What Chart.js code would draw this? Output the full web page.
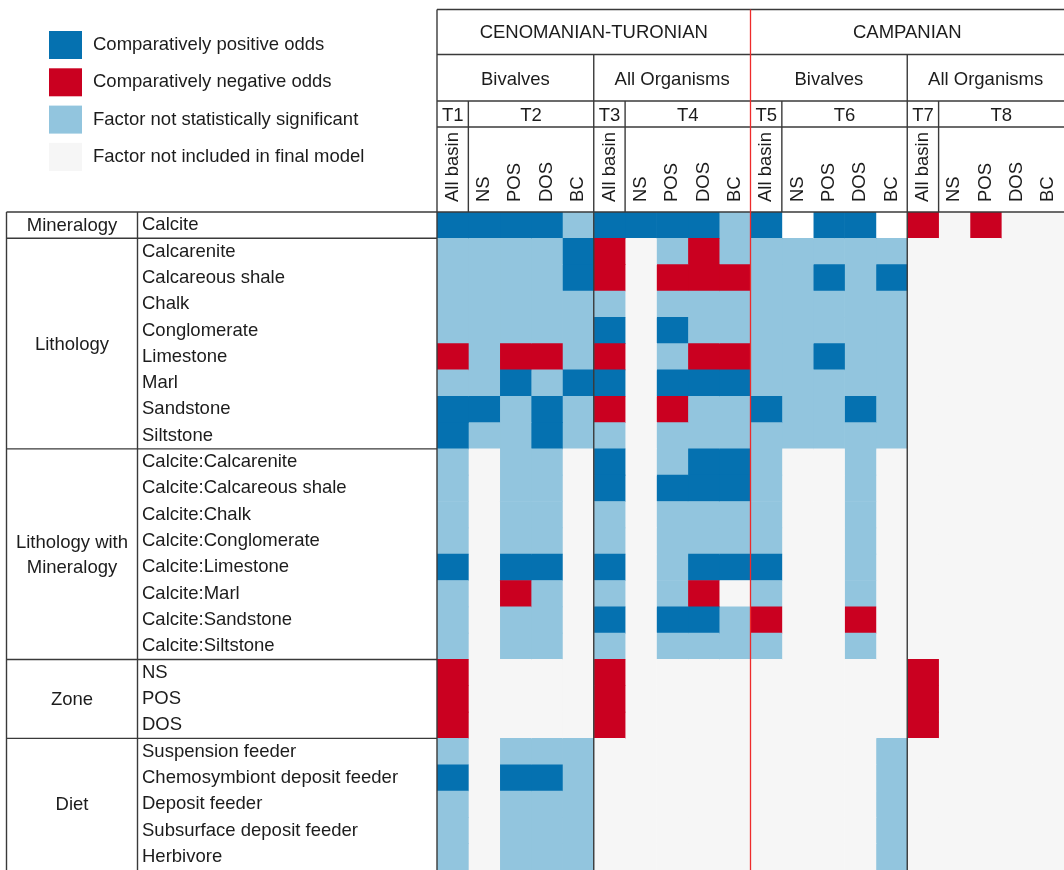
<!DOCTYPE html>
<html>
<head>
<meta charset="utf-8">
<script src="https://cdn.jsdelivr.net/npm/chart.js@4.4.1/dist/chart.umd.min.js"></script>
<style>
    body { margin: 0; background: #ffffff; }
    #wrap { width: 1064px; height: 870px; position: relative; }
</style>
</head>
<body>
<div id="wrap"><canvas id="odds-chart"></canvas></div>
<script>
// -- data --

const factors = [
    'Calcite',
    'Calcarenite', 'Calcareous shale', 'Chalk', 'Conglomerate', 'Limestone', 'Marl', 'Sandstone', 'Siltstone',
    'Calcite:Calcarenite', 'Calcite:Calcareous shale', 'Calcite:Chalk', 'Calcite:Conglomerate',
    'Calcite:Limestone', 'Calcite:Marl', 'Calcite:Sandstone', 'Calcite:Siltstone',
    'NS', 'POS', 'DOS',
    'Suspension feeder', 'Chemosymbiont deposit feeder', 'Deposit feeder', 'Subsurface deposit feeder', 'Herbivore'
];

const groupNames = [['Mineralogy'], ['Lithology'], ['Lithology with', 'Mineralogy'], ['Zone'], ['Diet']];
const groupSizes = [1, 8, 8, 3, 5];

const periods = ['CENOMANIAN-TURONIAN', 'CAMPANIAN'];
const organisms = ['Bivalves', 'All Organisms', 'Bivalves', 'All Organisms'];
const tests = ['T1', 'T2', 'T3', 'T4', 'T5', 'T6', 'T7', 'T8'];
const testSpans = [1, 4, 1, 4, 1, 4, 1, 4];
const subsets = ['All basin', 'NS', 'POS', 'DOS', 'BC', 'All basin', 'NS', 'POS', 'DOS', 'BC',
                 'All basin', 'NS', 'POS', 'DOS', 'BC', 'All basin', 'NS', 'POS', 'DOS', 'BC'];

const legendKeys = ['P', 'N', 'S', 'X'];
const legendLabels = ['Comparatively positive odds', 'Comparatively negative odds',
                      'Factor not statistically significant', 'Factor not included in final model'];

// P positive, N negative, S not significant, X not included, W empty
const mineralogyCells = [
    'PPPPS' + 'PPPPS' + 'PWPPW' + 'NXNXX'
];
const lithologyCells = [
    'SSSSP' + 'NXSNS' + 'SSSSS' + 'XXXXX',
    'SSSSP' + 'NXNNN' + 'SSPSP' + 'XXXXX',
    'SSSSS' + 'SXSSS' + 'SSSSS' + 'XXXXX',
    'SSSSS' + 'PXPSS' + 'SSSSS' + 'XXXXX',
    'NSNNS' + 'NXSNN' + 'SSPSS' + 'XXXXX',
    'SSPSP' + 'PXPPP' + 'SSSSS' + 'XXXXX',
    'PPSPS' + 'NXNSS' + 'PSSPS' + 'XXXXX',
    'PSSPS' + 'SXSSS' + 'SSSSS' + 'XXXXX'
];
const lithoMineralCells = [
    'SXSSX' + 'PXSPP' + 'SXXSX' + 'XXXXX',
    'SXSSX' + 'PXPPP' + 'SXXSX' + 'XXXXX',
    'SXSSX' + 'SXSSS' + 'SXXSX' + 'XXXXX',
    'SXSSX' + 'SXSSS' + 'SXXSX' + 'XXXXX',
    'PXPPX' + 'PXSPP' + 'PXXSX' + 'XXXXX',
    'SXNSX' + 'SXSNX' + 'SXXSX' + 'XXXXX',
    'SXSSX' + 'PXPPS' + 'NXXNX' + 'XXXXX',
    'SXSSX' + 'SXSSS' + 'SXXSX' + 'XXXXX'
];
const zoneCells = [
    'NXXXX' + 'NXXXX' + 'XXXXX' + 'NXXXX',
    'NXXXX' + 'NXXXX' + 'XXXXX' + 'NXXXX',
    'NXXXX' + 'NXXXX' + 'XXXXX' + 'NXXXX'
];
const dietCells = [
    'SXSSS' + 'XXXXX' + 'XXXXS' + 'XXXXX',
    'PXPPS' + 'XXXXX' + 'XXXXS' + 'XXXXX',
    'SXSSS' + 'XXXXX' + 'XXXXS' + 'XXXXX',
    'SXSSS' + 'XXXXX' + 'XXXXS' + 'XXXXX',
    'SXSSS' + 'XXXXX' + 'XXXXS' + 'XXXXX'
];

const cellColors = { P: '#0571b0', N: '#ca0020', S: '#92c5de', X: '#f6f6f6', W: '#ffffff' };

const FONT = '"Liberation Sans", Arial, sans-serif';
const FONT_SIZE = 18.5;
const TEXT_COLOR = '#1c1c1c';
const LINE_COLOR = '#3a3a3a';

const cells = [].concat(mineralogyCells, lithologyCells, lithoMineralCells, zoneCells, dietCells);

// one stacked dataset per column
const datasets = subsets.map(function (name, col) {
    return {
        label: name,
        data: factors.map(function () { return 1; }),
        backgroundColor: cells.map(function (row) { return cellColors[row[col]]; }),
        borderWidth: 0,
        barPercentage: 1,
        categoryPercentage: 1
    };
});

// header, legend, group labels and rules
const tablePlugin = {
    id: 'tablePlugin',
    afterDraw: function (chart) {
        const ctx = chart.ctx;
        const area = chart.chartArea;
        const xs = chart.scales.x;
        const colX = function (i) { return xs.getPixelForValue(i); };
        const rowH = (area.bottom - area.top) / factors.length;
        const rowY = function (i) { return area.top + i * rowH; };

        const yTop = 9.5, yOrg = 54.5, yTest = 101, ySub = 127;
        const leftEdge = 6.5, groupEdge = 137.5;

        ctx.save();
        ctx.fillStyle = TEXT_COLOR;
        ctx.font = FONT_SIZE + 'px ' + FONT;
        ctx.textBaseline = 'middle';
        ctx.textAlign = 'center';

        // header texts
        periods.forEach(function (p, i) {
            ctx.fillText(p, (colX(i * 10) + colX(i * 10 + 10)) / 2, (yTop + yOrg) / 2 + 1);
        });
        organisms.forEach(function (o, i) {
            ctx.fillText(o, (colX(i * 5) + colX(i * 5 + 5)) / 2, (yOrg + yTest) / 2 + 2);
        });
        let c = 0;
        tests.forEach(function (t, i) {
            ctx.fillText(t, (colX(c) + colX(c + testSpans[i])) / 2, (yTest + ySub) / 2 + 2);
            c += testSpans[i];
        });

        // rotated subset labels
        subsets.forEach(function (s, i) {
            ctx.save();
            ctx.translate((colX(i) + colX(i + 1)) / 2, area.top - 10);
            ctx.rotate(-Math.PI / 2);
            ctx.textAlign = 'left';
            ctx.fillText(s, 0, 0);
            ctx.restore();
        });

        // group labels
        let r = 0;
        groupNames.forEach(function (lines, i) {
            const mid = (rowY(r) + rowY(r + groupSizes[i])) / 2;
            lines.forEach(function (l, k) {
                ctx.fillText(l, (leftEdge + groupEdge) / 2, mid + (k - (lines.length - 1) / 2) * 25 + 1);
            });
            r += groupSizes[i];
        });

        // legend
        legendKeys.forEach(function (k, i) {
            const y = 31 + i * 37.3;
            ctx.fillStyle = cellColors[k];
            ctx.fillRect(49, y, 33, 28);
            ctx.fillStyle = TEXT_COLOR;
            ctx.textAlign = 'left';
            ctx.fillText(legendLabels[i], 93, y + 14);
        });

        // rules
        ctx.strokeStyle = LINE_COLOR;
        ctx.lineWidth = 1.4;
        const line = function (x1, y1, x2, y2) {
            ctx.beginPath();
            ctx.moveTo(x1, y1);
            ctx.lineTo(x2, y2);
            ctx.stroke();
        };
        [yTop, yOrg, yTest, ySub].forEach(function (y) { line(area.left, y, area.right, y); });
        line(leftEdge, area.top, area.right, area.top);
        line(area.left, yTop, area.left, area.bottom);
        line(colX(5), yOrg, colX(5), area.bottom);
        line(colX(15), yOrg, colX(15), area.bottom);
        [1, 6, 11, 16].forEach(function (i) { line(colX(i), yTest, colX(i), area.top); });

        line(leftEdge, area.top, leftEdge, area.bottom);
        line(groupEdge, area.top, groupEdge, area.bottom);
        r = 0;
        groupSizes.forEach(function (n) {
            r += n;
            if (r < factors.length) line(leftEdge, rowY(r), area.left, rowY(r));
        });

        ctx.strokeStyle = '#ee2b2b';
        ctx.lineWidth = 1.3;
        line(colX(10), yTop, colX(10), area.bottom);
        ctx.restore();
    }
};

new Chart(document.getElementById('odds-chart'), {
    type: 'bar',
    data: {
        labels: factors,
        datasets: datasets
    },
    options: {
        indexAxis: 'y',
        responsive: true,
        maintainAspectRatio: false,
        animation: false,
        layout: {
            padding: { top: 212, left: 142, right: 0, bottom: 0 }
        },
        plugins: {
            legend: { display: false },
            tooltip: { enabled: false }
        },
        scales: {
            x: {
                stacked: true,
                min: 0,
                max: subsets.length,
                display: false
            },
            y: {
                stacked: true,
                grid: { display: false },
                border: { display: false },
                ticks: {
                    autoSkip: false,
                    crossAlign: 'far',
                    color: TEXT_COLOR,
                    font: { family: FONT, size: FONT_SIZE }
                },
                afterFit: function (scale) {
                    scale.width = 295;
                    scale.paddingTop = 0;
                    scale.paddingBottom = 0;
                }
            }
        }
    },
    plugins: [tablePlugin]
});
</script>
</body>
</html>
